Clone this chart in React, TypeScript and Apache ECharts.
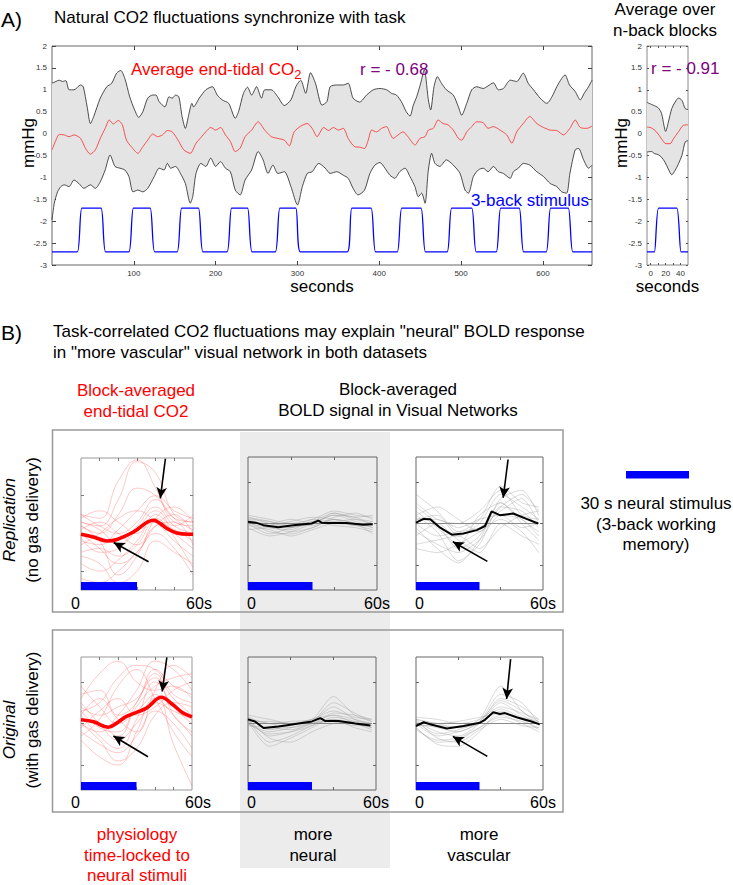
import React, { useEffect, useRef } from 'react';
import * as echarts from 'echarts';

type Pt = [number, number];

// ---------------- Panel A data ----------------
const MAIN_UPPER: Pt[] = [[0,1.15],[4.8,1.19],[8.8,1.22],[12.9,1.19],[16.9,1.21],[20.9,1.0],[26.9,1.0],[34.9,1.11],[38.2,1.07],[43,0.61],[47,0.23],[51,0.39],[59,0.81],[67,1.07],[73,1.15],[79,1.38],[84,1.44],[89,1.26],[95,0.84],[101,0.54],[106,0.37],[111,0.5],[117,0.81],[123,0.88],[127,0.88],[131,0.73],[138,0.61],[143,0.84],[147,0.81],[151,0.88],[155,0.84],[159,0.39],[163,0.12],[167,0.42],[171,0.69],[173,0.61],[180,0.81],[188,1.0],[196,1.07],[202,0.88],[208,0.77],[216,0.69],[224,0.35],[228,0.5],[234,0.92],[239,1.06],[244,0.88],[250,1.07],[256,0.81],[260,1.0],[268,1.0],[276,0.84],[284,0.64],[292,0.77],[298,1.07],[304,1.22],[310,0.92],[316,1.39],[322,1.15],[330,0.65],[336,0.73],[340,1.07],[348,1.11],[356,1.11],[362,1.15],[368,0.81],[376,0.72],[384.5,0.88],[392.6,1.0],[400.8,1.03],[409,1.0],[415,0.92],[421,0.88],[427,0.73],[433,0.5],[437.5,0.4],[441.6,0.65],[445.7,0.84],[450.6,1.15],[455,1.46],[460,0.77],[462.8,0.54],[466.9,1.07],[471,1.3],[476,1.15],[482,1.0],[490.5,0.88],[496.7,0.61],[500.7,0.42],[506.9,0.69],[513,1.0],[519,1.07],[527,1.03],[533,1.09],[539.5,1.16],[545.6,1.0],[551.7,1.03],[560,1.22],[568,1.19],[576,1.38],[582,1.15],[588.5,1.0],[596.6,0.81],[604.8,0.69],[611,0.84],[617,1.07],[623,1.26],[627,1.34],[632.5,1.11],[639.5,0.96],[645.6,0.77],[650.5,0.92],[655.8,1.07],[660,1.22]];
const MAIN_RED: Pt[] = [[0,-0.37],[4.8,-0.15],[8.8,-0.02],[14.9,-0.03],[20.9,-0.07],[26.9,-0.03],[34.9,-0.11],[41,-0.34],[47,-0.47],[53,-0.37],[59,-0.11],[65,0.12],[70,0.31],[75,0.22],[81,0.3],[86,0.2],[91,-0.15],[97,-0.3],[105,-0.45],[111,-0.3],[117,-0.15],[123,-0.01],[129,-0.07],[135,-0.03],[141,0.07],[147,0.04],[155,-0.18],[161,-0.37],[169,-0.45],[176,-0.22],[182,-0.09],[188,0.04],[194,0.14],[200,0.08],[206,0.14],[212,-0.03],[218,-0.18],[224,-0.41],[230,-0.33],[236,-0.07],[244,0.08],[252,0.27],[260,0.08],[268,-0.07],[276,-0.11],[284,-0.15],[290,-0.28],[296,0.04],[304,0.17],[312,0.23],[318,0.12],[324,-0.07],[332,0.14],[338,0.07],[344,0.14],[350,0.08],[356,0.12],[362,-0.11],[370,-0.3],[376,-0.31],[382,-0.34],[386.5,-0.15],[390.6,0.08],[396.7,0.04],[402.8,0.12],[409,0.16],[413,0.01],[417,-0.11],[423,-0.03],[429,0.04],[435,-0.07],[443.6,-0.26],[449.7,-0.11],[455.9,-0.07],[460,0.08],[466,0.12],[472,0.31],[478,0.23],[484,0.2],[490.5,0.08],[496.7,-0.11],[500.7,-0.15],[506.9,0.04],[513,0.16],[519,0.27],[527,0.25],[533,0.12],[539.5,0.16],[547.7,0.08],[555.8,-0.03],[562,-0.22],[568,0.04],[576,0.23],[584,0.39],[592.5,0.23],[600.7,0.14],[608.9,0.08],[617,0.07],[625,-0.03],[633,0.12],[639.5,0.31],[645.6,0.14],[653.7,0.12],[660,0.17]];
const MAIN_LOWER: Pt[] = [[0,-1.97],[2.8,-1.59],[6.8,-1.33],[10.8,-1.21],[14.9,-1.17],[20.9,-1.21],[26.9,-1.06],[32.9,-1.14],[39,-1.25],[47,-1.17],[53,-1.25],[59,-1.1],[65,-0.83],[71,-0.49],[77,-0.75],[83,-0.79],[89,-0.83],[94,-0.98],[99,-1.33],[105,-1.29],[111,-1.33],[117,-1.25],[125,-0.98],[131,-0.79],[137,-0.83],[141,-0.68],[145,-0.79],[151,-0.75],[157,-0.91],[163,-1.14],[169,-1.59],[172,-1.44],[176,-0.91],[182,-0.68],[188,-0.75],[194,-0.56],[200,-0.75],[206,-0.64],[212,-0.79],[218,-0.87],[224,-1.29],[230,-1.4],[236,-1.06],[244,-0.83],[252,-0.41],[258,-0.6],[264,-0.91],[270,-0.72],[276,-0.91],[284,-0.87],[292,-1.21],[300,-1.63],[306,-1.21],[312,-0.91],[318,-0.87],[326,-0.68],[334,-0.79],[340,-0.91],[348,-0.87],[356,-0.95],[362,-1.02],[368,-1.25],[374,-1.4],[382,-1.29],[388.5,-0.91],[394.7,-0.72],[400.8,-0.66],[406.9,-0.79],[413,-0.95],[419,-1.02],[425,-0.87],[431.4,-0.79],[437.5,-0.98],[443.6,-1.21],[447.7,-1.44],[451.8,-1.36],[455.9,-1.59],[460,-0.83],[464,-0.45],[468,-0.68],[474,-0.75],[482,-0.6],[490.5,-0.72],[498.7,-0.91],[504.8,-1.29],[509,-1.36],[515,-0.98],[521,-0.83],[527,-0.79],[533,-0.87],[539.5,-0.75],[545.6,-0.87],[551.7,-0.91],[560,-1.02],[564,-0.87],[570,-0.79],[576,-0.68],[584,-0.72],[592.5,-0.87],[600.7,-0.98],[609,-1.14],[617,-1.21],[623,-1.33],[629,-1.36],[633,-0.91],[639.5,-0.37],[643.6,-0.34],[649.7,-0.6],[655.8,-0.79],[660,-0.72]];

// 3-back blocks (seconds): ramp-up start, ramp-down start
const STIM_ON = [31, 94, 153, 214, 273, 361, 422, 483, 543, 604];
const STIM_OFF = [60, 120, 179, 239, 298, 390, 451, 513, 571, 631];
const STIM_LEVEL = [-2.7, -1.7]; // rest, task
const STIM_RAMP = 5.5;

// block average (right small panel)
const SMALL_UPPER: Pt[] = [[-5,0.71],[3.2,0.65],[10,0.59],[14.5,0.46],[17.7,0.19],[20,0.05],[23.6,0.26],[28.2,0.57],[32.7,0.72],[37.2,0.81],[41.8,0.76],[46.3,0.57],[50,0.55]];
const SMALL_RED: Pt[] = [[-5,0.15],[0.9,0.13],[7.7,0.04],[14.5,-0.12],[20.4,-0.23],[25.9,-0.23],[30.4,-0.12],[37.2,0.04],[44,0.19],[50,0.2]];
const SMALL_LOWER: Pt[] = [[-5,-0.42],[0.9,-0.41],[5.4,-0.46],[10,-0.48],[14.5,-0.54],[19.1,-0.65],[23.6,-0.81],[28.2,-0.94],[32.7,-0.84],[37.2,-0.69],[41.8,-0.5],[46.3,-0.19],[50,-0.16]];
const SMALL_STIM_ON = [5];
const SMALL_STIM_OFF = [35];

const MAIN_X_TICKS = [100, 200, 300, 400, 500, 600];
const SMALL_X_TICKS = [0, 10, 20, 30, 40];
const SMALL_X_LABELS = [0, 20, 40];

// ---------------- Panel B data ----------------
const T_RED = [0, 10, 20, 30, 40, 50, 60];
const T_BOLD = [0, 10, 20, 30, 40, 50, 58];
const STIM_BLOCK = [0, 30];

const RED_MEAN_REPL: Pt[] = [[0,-0.02],[7,-0.1],[13.9,-0.2],[19.3,-0.16],[28.2,0.04],[38.9,0.35],[42.5,0.26],[46,0.13],[51.4,0.01],[57.6,-0.02],[60,-0.02]];
const RED_MEAN_ORIG: Pt[] = [[0,0.09],[6.8,0.04],[14.8,-0.09],[19.3,0.01],[24.6,0.17],[35.4,0.37],[43.4,0.63],[49.7,0.45],[55,0.26],[60,0.16]];
const RED_THIN_REPL = [
  [0.5, 0.4, 1.4, 1.95, 1.2, 0.3, 0.2],
  [0.3, 0.2, 0.9, 1.9, 1.6, 0.5, 0.3],
  [0.2, 0.0, 0.5, 1.2, 1.0, 0.4, 0.1],
  [-0.2, -0.3, 0.1, 0.6, 1.0, 0.6, 0.4],
  [0.4, 0.6, 0.3, 0.0, 0.5, 0.2, 0.5],
  [-0.5, -0.4, -0.6, -0.3, 0.3, 0.1, -0.2],
  [-0.8, -1.0, -0.7, -0.2, 0.4, 0.0, -0.4],
  [-1.2, -1.3, -1.0, -0.5, 0.0, -0.4, -1.1],
  [0.0, -0.4, -0.8, -0.5, 0.2, 0.5, 0.0],
  [0.1, 0.3, 0.0, -0.3, 0.2, 0.3, -0.3],
  [-0.3, 0.0, 0.4, 0.6, 0.3, -0.2, -0.6],
  [0.2, -0.2, -1.1, -0.6, 0.4, 0.7, 0.3],
  [-0.6, -0.8, -1.3, -1.0, -0.2, -0.5, -0.8],
  [0.3, 0.1, -0.3, 0.2, 0.7, 0.2, 0.0],
  [-0.1, -0.5, -0.4, 0.1, 0.6, -0.1, -0.9],
  [0.5, 0.2, 0.0, 0.3, 0.9, 0.4, 0.3],
];
const RED_THIN_ORIG = [
  [0.6, 1.2, 1.5, 1.0, 0.8, 0.9, 0.6],
  [0.3, 0.5, 1.1, 1.4, 1.3, 0.7, 0.5],
  [0.0, -0.2, 0.2, 0.8, 1.5, 1.3, 0.8],
  [0.2, -0.3, -0.6, 0.1, 1.0, 0.4, 0.0],
  [-0.4, -0.8, -1.0, -0.2, 0.6, 0.2, -0.3],
  [0.9, 0.4, 0.0, 0.3, 0.7, -0.5, -1.5],
  [0.1, 0.0, -0.3, 0.4, 0.9, 1.1, 1.2],
  [-0.2, -0.5, -0.7, -0.3, 0.3, 0.0, -0.6],
  [0.4, 0.2, 0.4, 0.6, 1.1, 0.6, 0.2],
  [-0.1, 0.3, 0.6, 0.2, 0.4, 0.8, 1.0],
  [0.5, 0.0, -0.4, 0.0, 0.5, 0.3, 0.1],
  [0.0, -0.4, -0.9, -0.6, 0.2, 0.5, 0.4],
  [0.7, 0.8, 0.2, 0.5, 1.3, 0.9, 0.7],
  [-0.3, 0.1, 0.9, 1.3, 0.6, -0.2, -0.8],
  [0.2, 0.6, 0.1, -0.2, 0.8, 1.4, 1.1],
  [0.3, -0.1, -0.2, 0.5, 1.2, 0.2, -0.2],
];

const BOLD_MEAN_REPL_NEURAL: Pt[] = [[0,0.04],[3.6,0.02],[7.1,-0.04],[14.1,-0.09],[21.1,-0.04],[29.6,0.0],[32.7,0.07],[34.3,0.02],[38.1,0.01],[45.9,0.01],[53.6,-0.03],[58,-0.02]];
const BOLD_MEAN_REPL_VASC: Pt[] = [[0,0.02],[3.6,0.11],[6.7,0.1],[11.4,-0.1],[16.9,-0.27],[22.4,-0.24],[28.7,-0.16],[32.6,-0.06],[35.7,0.29],[39.6,0.2],[45.9,0.24],[52.2,0.11],[57.7,0.0]];
const BOLD_MEAN_ORIG_NEURAL: Pt[] = [[0,0.1],[3.3,0.05],[7.3,-0.11],[14.3,-0.07],[22.2,-0.01],[30,0.05],[33.9,0.13],[36.3,0.06],[42.5,0.06],[50.3,0.0],[57.4,-0.05]];
const BOLD_MEAN_ORIG_VASC: Pt[] = [[0,-0.06],[3.6,0.03],[7.5,-0.03],[14.6,-0.12],[22.4,-0.06],[30.2,0.02],[32.6,0.09],[36.5,0.27],[39.6,0.23],[42,0.25],[47.5,0.15],[53.8,0.06],[58.5,-0.02]];

const BOLD_THIN_REPL_NEURAL = [
  [0.15, 0.0, -0.1, 0.05, 0.25, 0.1, 0.0],
  [0.05, -0.2, -0.25, -0.1, 0.1, 0.0, -0.1],
  [-0.1, -0.3, -0.2, 0.0, 0.2, 0.15, -0.05],
  [0.2, 0.1, 0.0, 0.1, 0.3, 0.2, 0.15],
  [0.0, -0.1, -0.15, 0.05, -0.05, -0.1, -0.2],
  [0.1, 0.05, -0.05, -0.05, 0.15, 0.25, 0.1],
  [-0.05, -0.15, -0.3, -0.15, 0.0, -0.05, -0.15],
  [0.1, -0.05, 0.05, 0.15, 0.1, -0.05, 0.05],
  [0.0, -0.25, -0.1, 0.0, 0.2, 0.05, -0.1],
  [0.15, 0.05, -0.1, 0.1, 0.05, 0.1, 0.05],
  [-0.15, -0.1, -0.2, -0.1, 0.1, 0.0, -0.25],
  [0.05, 0.0, 0.1, 0.0, 0.25, 0.15, 0.2],
];
const BOLD_THIN_REPL_VASC = [
  [0.7, 0.3, -0.2, 0.1, 0.9, 0.5, 0.4],
  [0.4, 0.0, -0.6, -0.3, 0.6, 0.8, 0.2],
  [0.2, -0.2, -0.9, -0.5, 0.4, 0.3, -0.1],
  [-0.2, -0.5, -0.7, -0.4, 0.2, 0.1, -0.3],
  [0.1, 0.2, -0.3, 0.0, 0.7, 0.4, 0.1],
  [-0.5, -0.4, -0.3, -0.6, -0.1, 0.2, 0.3],
  [0.3, -0.1, -0.5, 0.2, 0.5, 0.0, -0.4],
  [0.0, -0.3, -0.2, -0.1, 0.3, 0.6, 0.0],
  [-0.6, -0.7, -0.5, -0.2, 0.1, -0.2, -0.7],
  [0.5, 0.1, 0.0, 0.3, 0.8, 0.2, 0.1],
  [-0.3, 0.0, -0.4, -0.7, 0.0, -0.3, -0.5],
  [0.2, 0.4, 0.1, -0.2, 0.4, 0.7, 0.3],
  [-0.1, -0.6, -0.95, -0.4, 0.5, 0.1, -0.2],
  [0.1, 0.1, -0.1, 0.1, 0.2, -0.1, 0.0],
];
const BOLD_THIN_ORIG_NEURAL = [
  [0.1, -0.3, -0.2, 0.0, 0.2, 0.1, 0.0],
  [0.05, -0.55, -0.35, -0.1, 0.15, 0.05, -0.1],
  [0.15, 0.0, 0.05, 0.1, 0.65, 0.2, 0.05],
  [0.0, -0.2, -0.1, 0.05, 0.4, 0.1, -0.05],
  [0.1, -0.45, -0.3, -0.05, 0.1, 0.0, -0.15],
  [0.2, 0.1, 0.0, 0.1, 0.3, 0.15, 0.1],
  [-0.05, -0.1, -0.15, 0.0, 0.1, -0.1, -0.2],
  [0.1, -0.35, -0.45, -0.2, 0.0, 0.05, 0.0],
  [0.05, 0.05, 0.0, 0.05, 0.5, 0.25, 0.05],
  [0.15, -0.15, -0.05, 0.1, 0.2, 0.0, -0.1],
  [0.0, -0.25, -0.2, -0.05, 0.25, 0.2, 0.1],
  [0.1, 0.0, -0.1, 0.0, 0.05, -0.05, -0.05],
];
const BOLD_THIN_ORIG_VASC = [
  [0.0, -0.3, -0.2, 0.0, 0.5, 0.2, 0.0],
  [-0.1, -0.5, -0.55, -0.2, 0.3, 0.1, -0.15],
  [0.1, 0.0, -0.1, 0.1, 0.9, 0.3, 0.05],
  [0.05, -0.2, -0.3, 0.0, 0.6, 0.4, 0.1],
  [-0.15, -0.4, -0.35, -0.1, 0.2, 0.0, -0.2],
  [0.15, 0.1, 0.0, 0.1, 0.4, 0.25, 0.1],
  [0.0, -0.1, -0.2, 0.05, 0.7, 0.5, 0.0],
  [0.1, -0.35, -0.45, -0.15, 0.1, -0.05, -0.1],
  [-0.05, -0.05, -0.1, 0.0, 0.35, 0.15, 0.05],
  [0.05, -0.25, -0.15, 0.05, 0.55, 0.3, -0.05],
  [0.1, 0.0, 0.05, 0.15, 0.25, 0.1, 0.0],
  [-0.1, -0.45, -0.4, -0.1, 0.15, 0.05, -0.1],
];

// annotation arrows [from, to] in data units
const ARROWS_RED_REPL: [Pt, Pt][] = [[[45.2, 1.98], [42.5, 0.93]], [[36.2, -0.75], [17.5, -0.24]]];
const ARROWS_RED_ORIG: [Pt, Pt][] = [[[46.4, 1.59], [43.9, 0.77]], [[36.2, -0.8], [17.5, -0.3]]];
const ARROWS_VASC_REPL: [Pt, Pt][] = [[[43.5, 1.54], [41.2, 0.62]], [[33.7, -0.91], [17.4, -0.44]]];
const ARROWS_VASC_ORIG: [Pt, Pt][] = [[[44.7, 1.55], [42.8, 0.59]], [[33.7, -0.79], [17.4, -0.31]]];

// ---------------- helpers ----------------
const FONT = 'Liberation Sans';
const BLUE = '#0000ff';
const RED = '#ff0000';
const PURPLE = '#800080';

function measure(text: string, size: number) {
  const c = document.createElement('canvas').getContext('2d');
  if (!c) return text.length * size * 0.5;
  c.font = `${size}px "${FONT}"`;
  return c.measureText(text).width;
}

function stimPath(on: number[], off: number[], x0: number, x1: number): Pt[] {
  const [lo, hi] = STIM_LEVEL;
  const pts: Pt[] = [[x0, lo]];
  on.forEach((t, i) => {
    pts.push([t, lo], [t + STIM_RAMP, hi], [off[i], hi], [off[i] + STIM_RAMP, lo]);
  });
  pts.push([x1, lo]);
  return pts;
}

function buildOption() {
  const grid: any[] = [];
  const xAxis: any[] = [];
  const yAxis: any[] = [];
  const series: any[] = [];
  const graphic: any[] = [];

  function panel(rect: number[], xs: any, ys: any) {
    const gi = grid.length;
    grid.push({
      left: rect[0], top: rect[1], width: rect[2], height: rect[3],
      show: true, borderColor: xs.border, borderWidth: 1, backgroundColor: 'transparent',
    });
    const tick = (vals: number[]) => ({
      show: true, inside: true, length: xs.tickLen, customValues: vals,
      lineStyle: { color: xs.tickColor, width: 1 },
    });
    const noLine = { show: false, onZero: false };
    const xi = xAxis.length;
    xAxis.push({
      type: 'value', gridIndex: gi, position: 'bottom', min: xs.min, max: xs.max,
      axisLine: noLine, splitLine: { show: false }, axisTick: tick(xs.ticks),
      axisLabel: xs.label ? { show: true, customValues: xs.labels, ...xs.label } : { show: false },
    });
    xAxis.push({
      type: 'value', gridIndex: gi, position: 'top', min: xs.min, max: xs.max,
      axisLine: noLine, splitLine: { show: false }, axisTick: tick(xs.ticks),
      axisLabel: { show: false },
    });
    const yi = yAxis.length;
    const yTick = ys.ticks ? tick(ys.ticks) : { show: true, inside: true, length: xs.tickLen, lineStyle: { color: xs.tickColor } };
    yAxis.push({
      type: 'value', gridIndex: gi, position: 'left', min: ys.min, max: ys.max,
      ...(ys.interval ? { interval: ys.interval } : {}),
      axisLine: noLine, splitLine: { show: false }, axisTick: yTick,
      axisLabel: ys.label ? { show: true, ...ys.label } : { show: false },
    });
    yAxis.push({
      type: 'value', gridIndex: gi, position: 'right', min: ys.min, max: ys.max,
      ...(ys.interval ? { interval: ys.interval } : {}),
      axisLine: noLine, splitLine: { show: false }, axisTick: yTick,
      axisLabel: { show: false },
    });
    return { xi, yi };
  }

  function line(ax: any, data: Pt[], color: string, width: number, smooth: number | boolean, z = 2, extra: any = {}) {
    series.push({
      type: 'line', xAxisIndex: ax.xi, yAxisIndex: ax.yi, data, symbol: 'none', showSymbol: false,
      smooth, silent: true, z, lineStyle: { color, width }, ...extra,
    });
  }

  function band(ax: any, upper: Pt[], lower: Pt[]) {
    series.push({
      type: 'custom', xAxisIndex: ax.xi, yAxisIndex: ax.yi, silent: true, clip: true, z: 1,
      data: [upper[0]],
      renderItem: (_p: any, api: any) => ({
        type: 'polygon',
        shape: {
          points: [...upper.map((p) => api.coord(p)), ...[...lower].reverse().map((p) => api.coord(p))],
          smooth: 0.2,
        },
        style: { fill: '#e4e4e4', stroke: 'none' },
      }),
    });
  }

  function stimBar(ax: any, ymin: number) {
    series.push({
      type: 'custom', xAxisIndex: ax.xi, yAxisIndex: ax.yi, silent: true, z: 6,
      data: [[STIM_BLOCK[0], ymin]],
      renderItem: (_p: any, api: any) => {
        const a = api.coord([STIM_BLOCK[0], ymin]);
        const b = api.coord([STIM_BLOCK[1], ymin]);
        return { type: 'rect', shape: { x: a[0], y: a[1] - 8, width: b[0] - a[0], height: 8 }, style: { fill: BLUE } };
      },
    });
  }

  function arrows(list: [Pt, Pt][]) {
    return {
      silent: true, symbol: ['none', 'arrow'], symbolSize: [8, 11], animation: false,
      label: { show: false }, lineStyle: { color: '#000', width: 1.6, type: 'solid' },
      data: list.map(([a, b]) => [{ coord: a }, { coord: b }]),
    };
  }

  const axisLabelA = { fontSize: 8, color: '#333', fontFamily: FONT };

  // ---------- Panel A main ----------
  const main = panel([52, 46, 540, 219],
    { min: 0, max: 660, ticks: MAIN_X_TICKS, labels: MAIN_X_TICKS, border: '#666', tickColor: '#444', tickLen: 4, label: { ...axisLabelA, margin: 4 } },
    { min: -3, max: 2, interval: 0.5, label: { ...axisLabelA, margin: 5 } });
  band(main, MAIN_UPPER, MAIN_LOWER);
  line(main, MAIN_UPPER, '#222', 0.8, 0.25);
  line(main, MAIN_LOWER, '#222', 0.8, 0.25);
  line(main, MAIN_RED, '#ff2a2a', 0.8, 0.25);
  line(main, stimPath(STIM_ON, STIM_OFF, 0, 660), BLUE, 1.3, 0.15);

  // ---------- Panel A small ----------
  const small = panel([647, 46, 41, 219],
    { min: -5, max: 50, ticks: SMALL_X_TICKS, labels: SMALL_X_LABELS, border: '#888', tickColor: '#555', tickLen: 2, label: { ...axisLabelA, margin: 4 } },
    { min: -3, max: 2, interval: 0.5, label: { ...axisLabelA, margin: 5 } });
  band(small, SMALL_UPPER, SMALL_LOWER);
  line(small, SMALL_UPPER, '#222', 0.8, 0.3);
  line(small, SMALL_LOWER, '#222', 0.8, 0.3);
  line(small, SMALL_RED, '#ff2a2a', 0.8, 0.3);
  line(small, stimPath(SMALL_STIM_ON, SMALL_STIM_OFF, -5, 50), BLUE, 1.3, 0.15);

  // ---------- Panel B subplots ----------
  const lbl = (shiftLeft: number, shiftRight: number, margin: number) => ({
    fontSize: 16, color: '#000', fontFamily: FONT, margin,
    formatter: (v: number) => (v === 0 ? '{a|0}' : '{b|60s}'),
    rich: {
      a: { fontSize: 16, fontFamily: FONT, color: '#000', padding: shiftLeft >= 0 ? [0, shiftLeft, 0, 0] : [0, 0, 0, -shiftLeft] },
      b: { fontSize: 16, fontFamily: FONT, color: '#000', padding: [0, 0, 0, shiftRight] },
    },
  });

  const redX = (m: number) => ({ min: 0, max: 60, ticks: [10, 20, 30, 40, 50], labels: [0, 60], border: '#999', tickColor: '#777', tickLen: 3, label: lbl(11, 12, m) });
  const boldX = (m: number) => ({ min: 0, max: 60, ticks: [20, 40], labels: [0, 60], border: '#666', tickColor: '#666', tickLen: 3, label: lbl(-7, 0, m) });

  function redPanel(rect: number[], ymin: number, ymax: number, thin: number[][], mean: Pt[], arr: [Pt, Pt][], m: number) {
    const ax = panel(rect, redX(m), { min: ymin, max: ymax, ticks: [-1, 0, 1] });
    thin.forEach((vals) => line(ax, T_RED.map((t, i) => [t, vals[i]] as Pt), 'rgba(255,70,70,0.42)', 0.7, 0.45));
    line(ax, mean, RED, 3.6, 0.4, 4, { markLine: arrows(arr) });
    stimBar(ax, ymin);
  }

  function boldPanel(rect: number[], thin: number[][], mean: Pt[], arr: [Pt, Pt][] | null, m: number) {
    const ax = panel(rect, boldX(m), { min: -1.6, max: 1.6, ticks: [-1, 0, 1] });
    thin.forEach((vals) => line(ax, T_BOLD.map((t, i) => [t, vals[i]] as Pt), 'rgba(150,150,150,0.6)', 0.6, 0.25));
    line(ax, [[0, 0], [58, 0]], '#8a8a8a', 1, false, 3);
    line(ax, mean, '#000', 2, false, 4, arr ? { markLine: arrows(arr) } : {});
    stimBar(ax, -1.6);
  }

  redPanel([81, 458, 112, 132], -1.5, 2, RED_THIN_REPL, RED_MEAN_REPL, ARROWS_RED_REPL, 5);
  boldPanel([248, 457, 129, 133], BOLD_THIN_REPL_NEURAL, BOLD_MEAN_REPL_NEURAL, null, 5);
  boldPanel([416, 457, 127, 133], BOLD_THIN_REPL_VASC, BOLD_MEAN_REPL_VASC, ARROWS_VASC_REPL, 5);
  redPanel([81, 657, 111, 133], -1.6, 1.6, RED_THIN_ORIG, RED_MEAN_ORIG, ARROWS_RED_ORIG, 4);
  boldPanel([248, 657, 128, 133], BOLD_THIN_ORIG_NEURAL, BOLD_MEAN_ORIG_NEURAL, null, 4);
  boldPanel([416, 657, 127, 133], BOLD_THIN_ORIG_VASC, BOLD_MEAN_ORIG_VASC, ARROWS_VASC_ORIG, 4);

  // ---------- graphics: backgrounds, boxes, texts ----------
  const txt = (text: string, x: number, y: number, o: any = {}) => ({
    type: 'text', x, y, silent: true, rotation: o.rotation || 0, z: 10,
    style: {
      text, fill: o.color || '#000', fontSize: o.size || 17, fontFamily: FONT,
      fontStyle: o.italic ? 'italic' : 'normal',
      textAlign: o.align || 'center', textVerticalAlign: 'middle', verticalAlign: 'middle',
    },
  });

  graphic.push({ type: 'rect', silent: true, z: -5, shape: { x: 240, y: 432, width: 150, height: 436 }, style: { fill: '#ececec' } });
  graphic.push({ type: 'rect', silent: true, z: -4, shape: { x: 52.5, y: 430, width: 510.5, height: 182 }, style: { fill: 'none', stroke: '#999', lineWidth: 1.5 } });
  graphic.push({ type: 'rect', silent: true, z: -4, shape: { x: 52.5, y: 630, width: 510.5, height: 182 }, style: { fill: 'none', stroke: '#999', lineWidth: 1.5 } });
  graphic.push({ type: 'rect', silent: true, z: 10, shape: { x: 626, y: 471, width: 63, height: 7.5 }, style: { fill: BLUE } });

  // Panel A texts
  graphic.push(txt('A)', 1, 19, { size: 21, align: 'left' }));
  graphic.push(txt('Natural CO2 fluctuations synchronize with task', 54, 17, { size: 17, align: 'left' }));
  graphic.push(txt('Average over', 665, 9, { size: 17 }));
  graphic.push(txt('n-back blocks', 665, 30, { size: 17 }));
  graphic.push(txt('mmHg', 28, 143, { size: 17, rotation: Math.PI / 2 }));
  graphic.push(txt('mmHg', 621.5, 143, { size: 17, rotation: Math.PI / 2 }));
  graphic.push(txt('seconds', 322, 286, { size: 17 }));
  graphic.push(txt('seconds', 667.5, 286, { size: 17 }));
  const co = 'Average end-tidal CO';
  graphic.push(txt(co, 131, 69, { size: 17, align: 'left', color: RED }));
  graphic.push(txt('2', 131 + measure(co, 17), 74, { size: 13, align: 'left', color: RED }));
  graphic.push(txt('r = - 0.68', 360, 69, { size: 17, align: 'left', color: PURPLE }));
  graphic.push(txt('r = - 0.91', 651, 68, { size: 17, align: 'left', color: PURPLE }));
  graphic.push(txt('3-back stimulus', 589, 200, { size: 17, align: 'right', color: BLUE }));

  // Panel B texts
  graphic.push(txt('B)', 1, 332, { size: 21, align: 'left' }));
  graphic.push(txt('Task-correlated CO2 fluctuations may explain "neural" BOLD response', 53, 331, { size: 17, align: 'left' }));
  graphic.push(txt('in "more vascular" visual network in both datasets', 53, 352, { size: 17, align: 'left' }));
  graphic.push(txt('Block-averaged', 136, 390, { color: RED }));
  graphic.push(txt('end-tidal CO2', 136, 411, { color: RED }));
  graphic.push(txt('Block-averaged', 398, 389));
  graphic.push(txt('BOLD signal in Visual Networks', 398, 410.5));
  graphic.push(txt('Replication', 9.5, 520, { italic: true, rotation: Math.PI / 2 }));
  graphic.push(txt('(no gas delivery)', 32, 520, { rotation: Math.PI / 2 }));
  graphic.push(txt('Original', 9.5, 730, { italic: true, rotation: Math.PI / 2 }));
  graphic.push(txt('(with gas delivery)', 32, 720, { rotation: Math.PI / 2 }));
  graphic.push(txt('30 s neural stimulus', 656, 503));
  graphic.push(txt('(3-back working', 656, 524));
  graphic.push(txt('memory)', 656, 544.5));
  graphic.push(txt('physiology', 137, 834, { color: RED }));
  graphic.push(txt('time-locked to', 137, 855, { color: RED }));
  graphic.push(txt('neural stimuli', 137, 875, { color: RED }));
  graphic.push(txt('more', 313, 834));
  graphic.push(txt('neural', 313, 855));
  graphic.push(txt('more', 479, 834));
  graphic.push(txt('vascular', 479, 855));

  return {
    animation: false,
    backgroundColor: '#ffffff',
    textStyle: { fontFamily: FONT },
    grid, xAxis, yAxis, series, graphic,
  };
}

export default function App() {
  const ref = useRef<HTMLDivElement>(null);
  useEffect(() => {
    if (!ref.current) return;
    const chart = echarts.init(ref.current, null, { renderer: 'svg', width: 733, height: 885 });
    chart.setOption(buildOption() as any);
    return () => chart.dispose();
  }, []);
  return (
    <div
      ref={ref}
      style={{ position: 'absolute', left: 0, top: 0, width: 733, height: 885, background: '#fff' }}
    />
  );
}
